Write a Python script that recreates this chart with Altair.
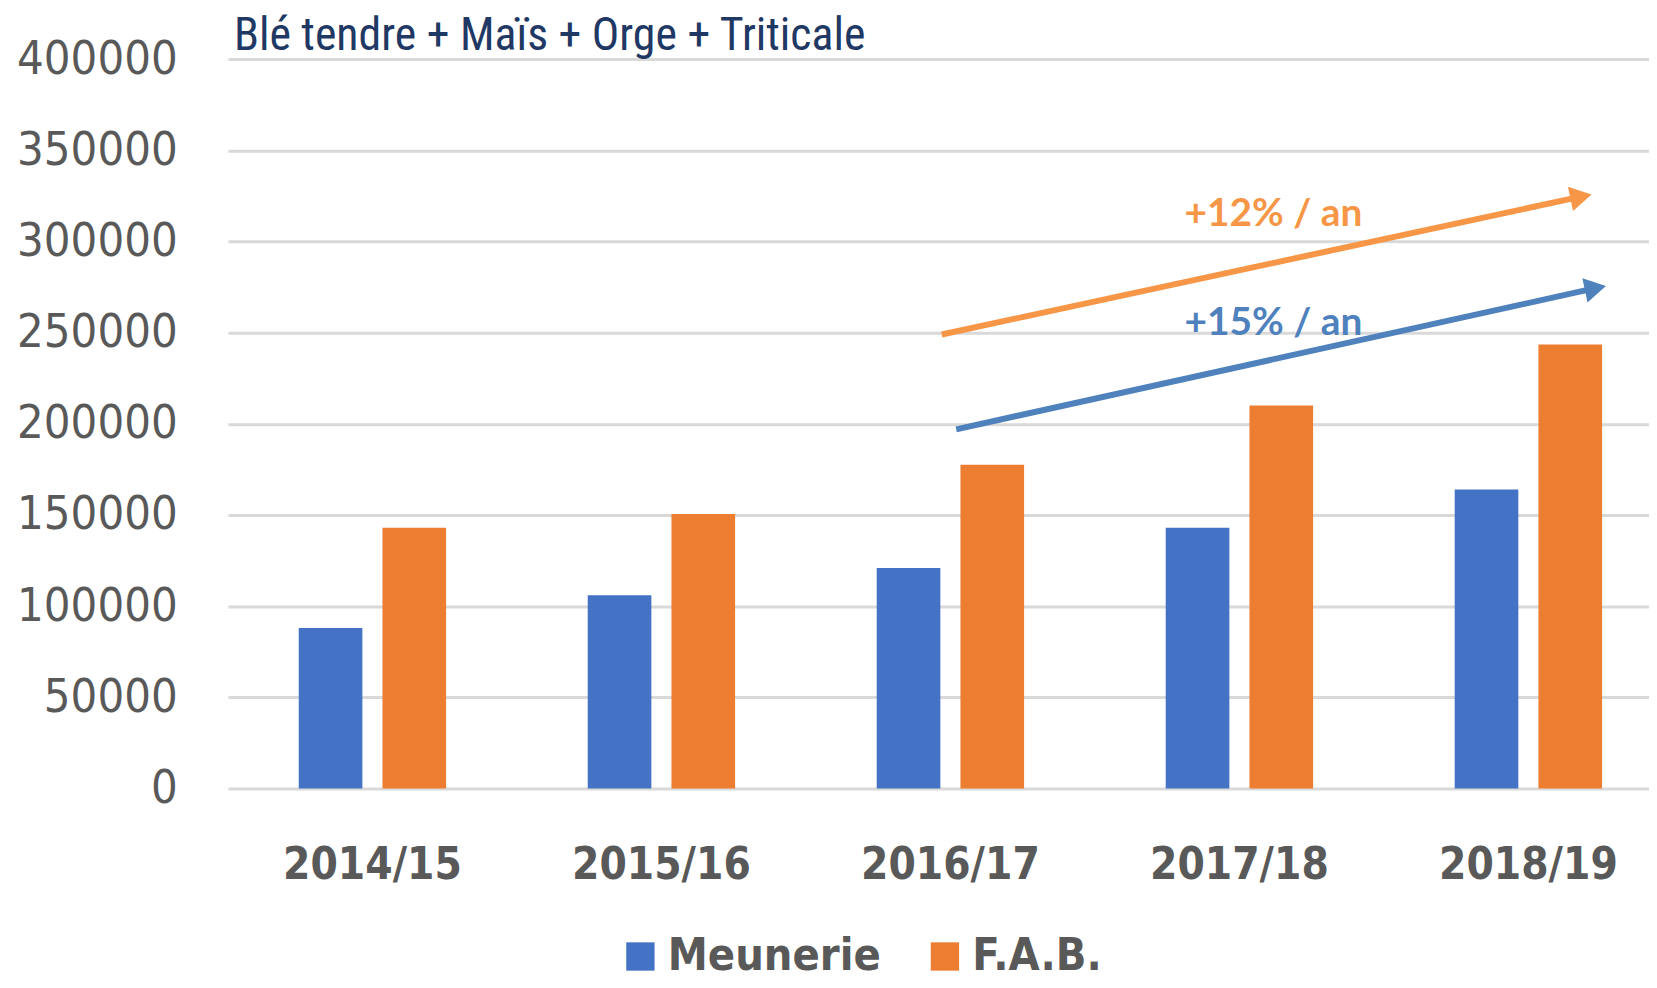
import altair as alt
import pandas as pd

# ---------------- data ----------------
seasons = ["2014/15", "2015/16", "2016/17", "2017/18", "2018/19"]
meunerie = [88000, 106000, 121000, 143000, 164000]
fab = [143000, 150500, 177500, 210000, 243500]
series_names = ["Meunerie", "F.A.B."]
series_colors = ["#4472C4", "#ED7D31"]
y_ticks = [0, 50000, 100000, 150000, 200000, 250000, 300000, 350000, 400000]

# trend arrows (x expressed in season-index units: 0 = 2014/15 ... 4 = 2018/19)
arrow_x_start = [1.97, 2.02]
arrow_y_start = [249000, 197000]
arrow_x_end = [4.182, 4.232]
arrow_y_end = [324600, 274400]
arrow_angles = [348, 348]
arrow_colors = ["#F79646", "#4F81BD"]
arrow_labels = ["+12% / an", "+15% / an"]
label_x = [3.118, 3.118]
label_y = [315200, 255100]

title_text = "Blé tendre + Maïs + Orge + Triticale"

# ---------------- tables ----------------
rows = []
for i, s in enumerate(seasons):
    rows.append({"season": s, "serie": series_names[0], "value": meunerie[i]})
    rows.append({"season": s, "serie": series_names[1], "value": fab[i]})
df = pd.DataFrame(rows)

arrows = pd.DataFrame({
    "x0": arrow_x_start, "y0": arrow_y_start,
    "x1": arrow_x_end, "y1": arrow_y_end,
    "angle": arrow_angles, "color": arrow_colors,
    "label": arrow_labels, "lx": label_x, "ly": label_y,
})

PLOT_W = 1430
PLOT_H = 733
RANGE = [2, 1454]
FONT = "DejaVu Sans Condensed, DejaVu Sans, sans-serif"
GREY = "#595959"

yscale = alt.Scale(domain=[0, 400000], nice=False, zero=True)
xq = alt.Scale(domain=[-0.5, 4.5], range=RANGE, nice=False, zero=False)

y_axis = alt.Axis(title=None, values=y_ticks, format="d", ticks=False, domain=False,
                  grid=True, gridColor="#D9D9D9", gridWidth=3,
                  labelFont=FONT, labelFontSize=47, labelColor=GREY,
                  labelPadding=49, labelBaseline="middle")

bars = alt.Chart(df).mark_bar().encode(
    x=alt.X("season:N", sort=seasons,
            scale=alt.Scale(range=RANGE, paddingInner=0.49, paddingOuter=0.245),
            axis=alt.Axis(title=None, labelAngle=0, ticks=False, domain=False, grid=False,
                          labelFont=FONT, labelFontSize=44, labelFontWeight="bold",
                          labelColor=GREY, labelPadding=77, labelBaseline="middle")),
    xOffset=alt.XOffset("serie:N", sort=series_names,
                        scale=alt.Scale(paddingInner=0.24, paddingOuter=0)),
    y=alt.Y("value:Q", scale=yscale, axis=y_axis),
    color=alt.Color("serie:N", sort=series_names,
                    scale=alt.Scale(domain=series_names, range=series_colors),
                    legend=alt.Legend(title=None, orient="none", legendX=394, legendY=879,
                                      direction="horizontal", symbolType="square",
                                      symbolSize=810, symbolStrokeWidth=0, symbolOpacity=1,
                                      labelFont=FONT, labelFontSize=45, labelFontWeight="bold",
                                      labelColor=GREY, labelOffset=5, columnPadding=41,
                                      labelLimit=500)),
)

lines = alt.Chart(arrows).mark_rule(strokeWidth=6).encode(
    x=alt.X("x0:Q", scale=xq, axis=None), x2="x1:Q",
    y=alt.Y("y0:Q", scale=yscale, axis=y_axis), y2="y1:Q",
    stroke=alt.Stroke("color:N", scale=None),
)

heads = alt.Chart(arrows).mark_point(shape="triangle-right", size=620, filled=True, opacity=1).encode(
    x=alt.X("x1:Q", scale=xq, axis=None),
    y=alt.Y("y1:Q", scale=yscale, axis=y_axis),
    angle=alt.Angle("angle:Q", scale=None),
    fill=alt.Fill("color:N", scale=None),
)

texts = alt.Chart(arrows).mark_text(font="Lato", fontSize=39, fontWeight="bold",
                                    baseline="middle", align="center").encode(
    x=alt.X("lx:Q", scale=xq, axis=None),
    y=alt.Y("ly:Q", scale=yscale, axis=y_axis),
    text="label:N",
    fill=alt.Fill("color:N", scale=None),
)

annotations = alt.layer(lines, heads, texts)

chart = alt.layer(bars, annotations).resolve_scale(x="independent").properties(
    width=PLOT_W, height=PLOT_H,
    background="white",
    padding={"left": 219, "top": 49, "right": 0, "bottom": 190},
    autosize=alt.AutoSizeParams(type="none"),
    title=alt.TitleParams(title_text, anchor="start", frame="group",
                          font="Liberation Sans Narrow, Arial Narrow, Roboto Condensed, sans-serif",
                          fontSize=46, fontWeight="normal", color="#1F3864",
                          offset=0, dx=8, dy=61, baseline="alphabetic"),
).configure_view(strokeWidth=0, stroke="transparent").configure_axis(
    domain=False, ticks=False
).configure_axisX(grid=False)

chart.save("out.html", embed_options={"renderer": "svg", "actions": False})
